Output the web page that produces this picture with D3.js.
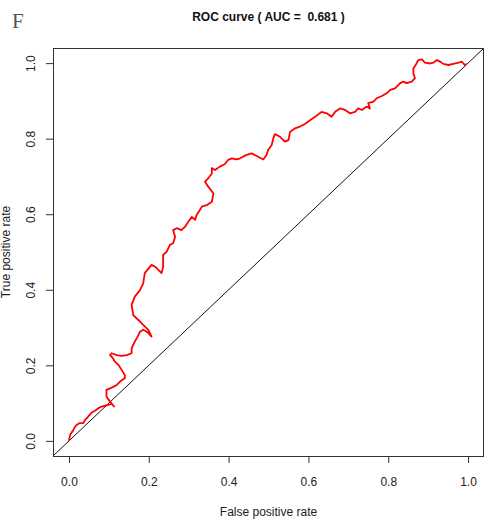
<!DOCTYPE html>
<html>
<head>
<meta charset="utf-8">
<script src="https://cdn.jsdelivr.net/npm/d3@7"></script>
<style>
  body { margin: 0; background: #fff; }
  svg { display: block; font-family: "Liberation Sans", Arial, sans-serif; }
</style>
</head>
<body>
<div id="chart"></div>
<script>
// ROC curve points
const fpr = [0, 0.003, 0.011, 0.015, 0.019, 0.026, 0.036, 0.040, 0.048, 0.057, 0.065, 0.073, 0.082, 0.098, 0.107, 0.113,
  0.103, 0.094, 0.094, 0.103, 0.111, 0.120, 0.128, 0.136, 0.140, 0.140, 0.132, 0.124, 0.115, 0.110, 0.103, 0.107,
  0.120, 0.132, 0.145, 0.157, 0.157, 0.161, 0.165, 0.170, 0.174, 0.178, 0.186, 0.195, 0.207, 0.199, 0.186, 0.174,
  0.161, 0.157, 0.165, 0.178, 0.186, 0.190, 0.207, 0.216, 0.232, 0.236, 0.236, 0.245, 0.253, 0.261, 0.266, 0.261,
  0.270, 0.282, 0.291, 0.299, 0.308, 0.316, 0.320, 0.328, 0.333, 0.345, 0.358, 0.362, 0.349, 0.341, 0.349, 0.358,
  0.358, 0.366, 0.378, 0.391, 0.399, 0.408, 0.420, 0.429, 0.445, 0.458, 0.474, 0.487, 0.495, 0.499, 0.508, 0.512,
  0.516, 0.529, 0.541, 0.550, 0.554, 0.566, 0.579, 0.591, 0.604, 0.617, 0.633, 0.646, 0.658, 0.667, 0.679, 0.692,
  0.704, 0.717, 0.725, 0.734, 0.746, 0.754, 0.750, 0.763, 0.771, 0.784, 0.796, 0.805, 0.817, 0.830, 0.838, 0.846,
  0.859, 0.867, 0.863, 0.863, 0.871, 0.875, 0.884, 0.892, 0.905, 0.913, 0.922, 0.930, 0.938, 0.951, 0.963, 0.976,
  0.984, 0.992, 0.997];
const tpr = [0, 0.016, 0.029, 0.037, 0.042, 0.047, 0.047, 0.055, 0.064, 0.075, 0.080, 0.086, 0.091, 0.095, 0.098, 0.091,
  0.104, 0.117, 0.135, 0.139, 0.143, 0.148, 0.157, 0.163, 0.166, 0.174, 0.188, 0.201, 0.210, 0.219, 0.227, 0.232,
  0.227, 0.225, 0.227, 0.232, 0.245, 0.254, 0.263, 0.272, 0.280, 0.289, 0.294, 0.289, 0.276, 0.294, 0.307, 0.320,
  0.333, 0.360, 0.382, 0.399, 0.417, 0.444, 0.466, 0.461, 0.444, 0.461, 0.492, 0.501, 0.519, 0.523, 0.540, 0.558,
  0.563, 0.558, 0.567, 0.580, 0.593, 0.585, 0.598, 0.611, 0.620, 0.624, 0.633, 0.655, 0.673, 0.686, 0.695, 0.708,
  0.722, 0.717, 0.726, 0.733, 0.744, 0.748, 0.745, 0.748, 0.757, 0.761, 0.752, 0.745, 0.757, 0.770, 0.783, 0.801,
  0.812, 0.805, 0.792, 0.796, 0.818, 0.827, 0.832, 0.839, 0.849, 0.858, 0.871, 0.867, 0.858, 0.871, 0.880, 0.876,
  0.867, 0.871, 0.880, 0.876, 0.885, 0.880, 0.894, 0.898, 0.907, 0.913, 0.920, 0.929, 0.933, 0.947, 0.951, 0.947,
  0.951, 0.960, 0.973, 0.986, 0.999, 1.008, 1.010, 1.001, 0.999, 1.001, 1.008, 1.004, 0.998, 0.995, 0.998, 1.001,
  1.004, 0.995, 0.998];

const xTicks = [0, 0.2, 0.4, 0.6, 0.8, 1.0];
const yTicks = [0, 0.2, 0.4, 0.6, 0.8, 1.0];
const chartTitle = "ROC curve ( AUC =  0.681 )";
const panelLabel = "F";
const xLabel = "False positive rate";
const yLabel = "True positive rate";

const W = 488, H = 522;
const margin = { top: 48, right: 4, bottom: 66, left: 53 };
const width = W - margin.left - margin.right;
const height = H - margin.top - margin.bottom;

const svg = d3.select("#chart").append("svg")
  .attr("width", W)
  .attr("height", H);

// R-style 4% padding on both axes
const x = d3.scaleLinear().domain([-0.04, 1.04]).range([margin.left, margin.left + width]);
const y = d3.scaleLinear().domain([-0.04, 1.04]).range([margin.top + height, margin.top]);

// diagonal (abline 0,1) - runs corner to corner
svg.append("line")
  .attr("x1", x(-0.04)).attr("y1", y(-0.04))
  .attr("x2", x(1.04)).attr("y2", y(1.04))
  .attr("stroke", "#111")
  .attr("stroke-width", 1);

// roc curve
const pts = fpr.map((d, i) => ({ fpr: d, tpr: tpr[i] }));
const line = d3.line()
  .x(d => x(d.fpr))
  .y(d => y(d.tpr));

svg.append("path")
  .datum(pts)
  .attr("fill", "none")
  .attr("stroke", "#ff0000")
  .attr("stroke-width", 1.8)
  .attr("stroke-linejoin", "round")
  .attr("d", line);

// box
svg.append("rect")
  .attr("x", margin.left + 0.5)
  .attr("y", margin.top + 0.5)
  .attr("width", width - 1)
  .attr("height", height)
  .attr("fill", "none")
  .attr("stroke", "#333")
  .attr("stroke-width", 1);

// axes
const xAxis = d3.axisBottom(x).tickValues(xTicks).tickFormat(d3.format(".1f"))
  .tickSize(7).tickSizeOuter(0).tickPadding(14);
const gx = svg.append("g")
  .attr("transform", `translate(0,${margin.top + height})`)
  .call(xAxis);
gx.select(".domain").remove();
gx.selectAll("line").attr("stroke", "#333");
gx.selectAll("text")
  .attr("fill", "#222")
  .style("font-size", "12px");

const yAxis = d3.axisLeft(y).tickValues(yTicks).tickFormat(d3.format(".1f"))
  .tickSize(7).tickSizeOuter(0);
const gy = svg.append("g")
  .attr("transform", `translate(${margin.left},0)`)
  .call(yAxis);
gy.select(".domain").remove();
gy.selectAll("line").attr("stroke", "#333");
gy.selectAll("text")
  .attr("transform", "rotate(-90)")
  .attr("x", 0)
  .attr("y", -18)
  .attr("dy", 0)
  .attr("text-anchor", "middle")
  .attr("fill", "#222")
  .style("font-size", "12px");

// labels
svg.append("text")
  .attr("x", margin.left + width / 2)
  .attr("y", 516)
  .attr("text-anchor", "middle")
  .attr("fill", "#222")
  .style("font-size", "12px")
  .text(xLabel);

svg.append("text")
  .attr("transform", "rotate(-90)")
  .attr("x", -(margin.top + height / 2))
  .attr("y", 10)
  .attr("text-anchor", "middle")
  .attr("fill", "#222")
  .style("font-size", "12px")
  .text(yLabel);

svg.append("text")
  .attr("x", margin.left + width / 2)
  .attr("y", 21)
  .attr("text-anchor", "middle")
  .attr("fill", "#111")
  .style("font-size", "12px")
  .style("font-weight", "700")
  .style("white-space", "pre")
  .text(chartTitle);

svg.append("text")
  .attr("x", 12)
  .attr("y", 28)
  .attr("fill", "#555")
  .style("font-family", "'Liberation Serif', 'DejaVu Serif', serif")
  .style("font-size", "21px")
  .text(panelLabel);
</script>
</body>
</html>
